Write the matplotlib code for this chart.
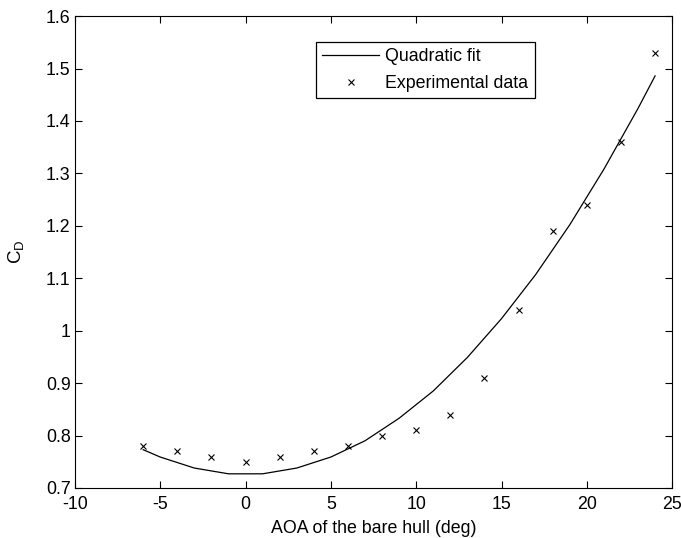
import matplotlib.pyplot as plt

# drag coefficient of the bare hull vs angle of attack
aoa_exp = [-6, -4, -2, 0, 2, 4, 6, 8, 10, 12, 14, 16, 18, 20, 22, 24]
cd_exp = [0.78, 0.77, 0.76, 0.75, 0.76, 0.77, 0.78, 0.80, 0.81, 0.84,
          0.91, 1.04, 1.19, 1.24, 1.36, 1.53]

# quadratic fit curve as sampled
aoa_fit = [-6, -5, -3, -1, 1, 3, 5, 7, 9, 11, 13, 15, 17, 19, 21, 23, 24]
cd_fit = [0.773, 0.759, 0.738, 0.727, 0.727, 0.738, 0.759, 0.790, 0.833,
          0.885, 0.949, 1.023, 1.107, 1.202, 1.308, 1.424, 1.486]

plt.rcParams['font.family'] = ['Liberation Sans', 'DejaVu Sans']
plt.rcParams['axes.unicode_minus'] = False

fig = plt.figure(figsize=(6.81, 5.38), dpi=100)
ax = fig.add_axes([0.110, 0.093, 0.877, 0.877])

ax.plot(aoa_fit, cd_fit, color='black', lw=0.9, label='Quadratic fit')
ax.plot(aoa_exp, cd_exp, 'x', color='black', ms=5, mew=0.8,
        label='Experimental data')

ax.set_xlim(-10, 25)
ax.set_ylim(0.7, 1.6)
ax.set_xticks(range(-10, 30, 5))
ax.set_yticks([0.7 + 0.1 * i for i in range(10)])
ax.set_yticklabels(['0.7', '0.8', '0.9', '1', '1.1', '1.2', '1.3', '1.4', '1.5', '1.6'])
ax.tick_params(direction='in', top=True, right=True, length=5, width=0.8,
               labelsize=12.8)
ax.tick_params(axis='x', pad=6)
ax.tick_params(axis='y', pad=3)
for s in ax.spines.values():
    s.set_linewidth(0.8)

ax.set_xlabel('AOA of the bare hull (deg)', fontsize=12.8, labelpad=4.5)
ax.set_ylabel('C$_\\mathregular{D}$', fontsize=13.5, labelpad=14)

leg = ax.legend(loc='upper left', bbox_to_anchor=(0.4037, 0.945), fontsize=12.8,
                fancybox=False, framealpha=1, edgecolor='black',
                borderaxespad=0, handlelength=3.2, handletextpad=0.35,
                borderpad=0.35, labelspacing=0.55)
leg.get_frame().set_linewidth(0.9)

fig.savefig('out.png', dpi=100)
